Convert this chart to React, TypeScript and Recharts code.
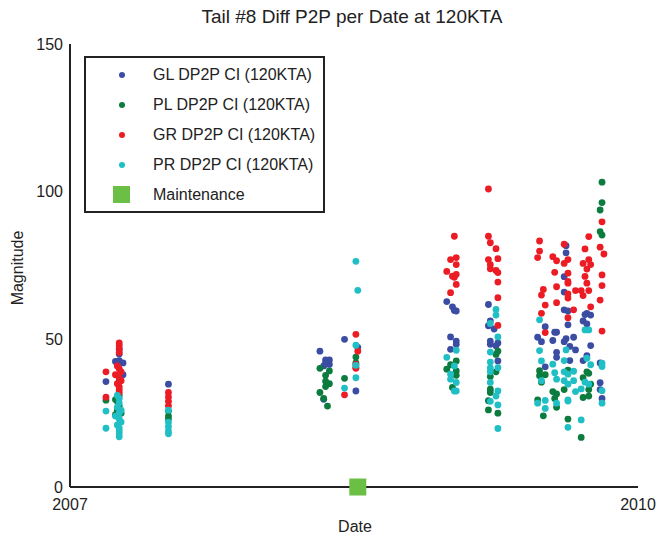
import { ScatterChart, Scatter, XAxis, YAxis } from "recharts";

const FONT = '"Liberation Sans Narrow", "Arial Narrow", "Liberation Sans", sans-serif';

const yTicks = [0, 50, 100, 150];
const xTicks = [2007, 2010];

// [date (decimal year), magnitude]
const glPoints: [number, number][] = [
  [2007.19, 35.7], [2007.24, 42.5], [2007.26, 42.8], [2007.28, 42], [2007.26, 46.5], [2007.26, 45], [2007.28, 38], [2007.26, 36],
  [2007.52, 34.8],
  [2008.32, 46], [2008.45, 50], [2008.35, 43], [2008.37, 43], [2008.35, 42], [2008.37, 41.5], [2008.34, 41], [2008.52, 47.3], [2008.51, 32.5], [2008.34, 29.7],
  [2008.99, 62.8], [2009.02, 61], [2009.03, 59.8], [2009.04, 59.6], [2009.01, 50.8], [2009.04, 49.4], [2009.04, 48.3], [2009.01, 46.6],
  [2009.21, 61.8], [2009.22, 56.2], [2009.21, 54.6], [2009.24, 53.5], [2009.22, 49.4], [2009.26, 48.8], [2009.22, 48.3], [2009.25, 47.8], [2009.26, 42.7],
  [2009.62, 81.7], [2009.62, 79.3], [2009.61, 71.2], [2009.61, 66], [2009.61, 60], [2009.63, 59.6], [2009.73, 58.8], [2009.72, 58.4], [2009.75, 58.2],
  [2009.71, 56.2], [2009.63, 54.9], [2009.73, 55.2], [2009.51, 54.3], [2009.56, 52.4], [2009.57, 52.4], [2009.47, 50.7], [2009.66, 50.7], [2009.49, 49.2],
  [2009.55, 49.6], [2009.61, 49.2], [2009.62, 50.2], [2009.75, 47.9], [2009.64, 47.6], [2009.67, 46.4], [2009.57, 45.6], [2009.73, 44.5], [2009.57, 43.9],
  [2009.64, 42.8], [2009.71, 42.8], [2009.8, 42], [2009.51, 40.7], [2009.8, 35.3], [2009.8, 33], [2009.81, 30],
];

const plPoints: [number, number][] = [
  [2007.19, 29.4], [2007.26, 31], [2007.25, 29], [2007.26, 27.5], [2007.25, 26], [2007.27, 25], [2007.24, 29.6], [2007.24, 24.5],
  [2007.52, 25.7], [2007.52, 24], [2007.52, 23],
  [2008.51, 44], [2008.51, 42], [2008.32, 40.2], [2008.37, 39.3], [2008.35, 37.8], [2008.45, 36.8], [2008.35, 35.8], [2008.37, 35], [2008.35, 34],
  [2008.32, 32], [2008.34, 30], [2008.36, 27.4], [2008.51, 40.5],
  [2009.04, 42.7], [2009.01, 41.4], [2008.99, 39.9], [2009.04, 39.3], [2009.04, 37.8], [2009.02, 33.7],
  [2009.26, 46], [2009.25, 44.9], [2009.25, 39], [2009.22, 37.4], [2009.22, 33.1], [2009.22, 32], [2009.21, 29.2], [2009.21, 26.1], [2009.26, 25],
  [2009.81, 103.2], [2009.81, 96.3], [2009.8, 93.8], [2009.8, 86.5], [2009.81, 85.3], [2009.48, 39.4], [2009.63, 39.6], [2009.73, 39], [2009.74, 38.5],
  [2009.48, 37.7], [2009.51, 38], [2009.49, 35.5], [2009.71, 37], [2009.75, 34.8], [2009.74, 33], [2009.55, 32.3], [2009.57, 31.5], [2009.61, 33],
  [2009.71, 30.3], [2009.74, 30.8], [2009.47, 29.5], [2009.56, 30], [2009.57, 27], [2009.5, 24.1], [2009.63, 23], [2009.7, 16.8],
];

const grPoints: [number, number][] = [
  [2007.19, 39], [2007.19, 30.4], [2007.26, 48.8], [2007.26, 47.8], [2007.26, 46.8], [2007.26, 45.5], [2007.25, 41], [2007.26, 40], [2007.27, 39],
  [2007.24, 38], [2007.26, 37], [2007.27, 36], [2007.25, 35], [2007.26, 34], [2007.26, 33], [2007.26, 32],
  [2007.52, 32], [2007.52, 30.5], [2007.52, 29], [2007.52, 27.5],
  [2008.51, 51.7], [2008.52, 46], [2008.51, 41.5], [2008.51, 40.2], [2008.45, 31.2],
  [2009.03, 84.9], [2009.01, 77], [2009.04, 77.7], [2009.04, 75.3], [2008.99, 73], [2009.02, 71.4], [2009.03, 71], [2009.04, 72], [2009.04, 68.6], [2009.01, 65.8],
  [2009.21, 100.9], [2009.21, 84.9], [2009.22, 82.7], [2009.25, 80.7], [2009.21, 77], [2009.26, 77.3], [2009.22, 75.3], [2009.22, 73.9], [2009.25, 73.3],
  [2009.26, 72.6], [2009.26, 69.4], [2009.26, 64.1], [2009.26, 54.7],
  [2009.81, 89.8], [2009.74, 84.8], [2009.48, 83.3], [2009.61, 82.2], [2009.72, 80.6], [2009.8, 81.2], [2009.48, 79.9], [2009.82, 78.9], [2009.47, 77.7],
  [2009.55, 78], [2009.57, 76.6], [2009.63, 77], [2009.74, 77], [2009.71, 75.7], [2009.61, 75.7], [2009.75, 75.3], [2009.73, 73.8], [2009.56, 72.7],
  [2009.63, 72.4], [2009.72, 71.3], [2009.81, 71.8], [2009.63, 69], [2009.73, 69], [2009.63, 69.6], [2009.81, 68.2], [2009.57, 67.8], [2009.5, 66.9],
  [2009.67, 66.5], [2009.7, 66.5], [2009.74, 66.5], [2009.49, 65], [2009.63, 65.4], [2009.71, 64.8], [2009.63, 64], [2009.8, 63.3], [2009.51, 61.6],
  [2009.57, 62.4], [2009.75, 61], [2009.66, 60], [2009.49, 58.8], [2009.63, 57.3], [2009.51, 52.3], [2009.81, 52.8],
];

const prPoints: [number, number][] = [
  [2007.19, 25.7], [2007.19, 19.9], [2007.25, 31], [2007.26, 30], [2007.26, 28.5], [2007.25, 27], [2007.27, 26], [2007.26, 25], [2007.24, 24],
  [2007.26, 23], [2007.27, 22], [2007.25, 21], [2007.26, 20], [2007.26, 19], [2007.26, 18], [2007.26, 17],
  [2007.52, 26], [2007.52, 22], [2007.52, 20.5], [2007.52, 19], [2007.52, 18],
  [2008.51, 76.4], [2008.52, 66.6], [2008.51, 48], [2008.51, 41.2], [2008.51, 37], [2008.45, 33.5],
  [2009.04, 46.3], [2008.99, 43.9], [2009.03, 41], [2009.01, 38.2], [2009.01, 36.5], [2009.04, 35.4], [2009.03, 32.5], [2009.04, 32.5],
  [2009.25, 60.1], [2009.25, 58.2], [2009.22, 55.4], [2009.26, 50.8], [2009.22, 45.7], [2009.22, 42.3], [2009.26, 40.4], [2009.22, 40.3], [2009.22, 39],
  [2009.22, 35.4], [2009.26, 32.5], [2009.25, 30.8], [2009.22, 29], [2009.26, 27.8], [2009.26, 19.8],
  [2009.48, 56.6], [2009.72, 53.2], [2009.74, 53.2], [2009.48, 46.2], [2009.62, 46.4], [2009.73, 43.6], [2009.49, 42.7], [2009.61, 42.8], [2009.55, 41.6],
  [2009.75, 41.4], [2009.81, 41.9], [2009.81, 40.8], [2009.61, 39], [2009.66, 39.2], [2009.56, 38.7], [2009.63, 38.2], [2009.49, 36], [2009.57, 36.5],
  [2009.61, 36], [2009.66, 36], [2009.72, 35.5], [2009.63, 34.8], [2009.74, 34.8], [2009.7, 33.2], [2009.81, 32.6], [2009.67, 32.3], [2009.63, 29.5],
  [2009.51, 29.3], [2009.47, 28.4], [2009.57, 28.4], [2009.81, 28.4], [2009.63, 29.1], [2009.51, 26.6], [2009.7, 22.7], [2009.63, 20.2],
];

const maintenancePoints: [number, number][] = [[2008.52, 0]];

const series = [
  { name: "GL DP2P CI (120KTA)", points: glPoints, color: "#3a4da2" },
  { name: "PL DP2P CI (120KTA)", points: plPoints, color: "#0b7b3e" },
  { name: "GR DP2P CI (120KTA)", points: grPoints, color: "#ec1c24" },
  { name: "PR DP2P CI (120KTA)", points: prPoints, color: "#20bfc5" },
];
const MAINT_COLOR = "#6bbf44";

const toRows = (pts: [number, number][]) => pts.map(([date, value]) => ({ date, value }));

const dotShape = (color: string) => (props: any) =>
  <circle cx={props.cx} cy={props.cy} r={3.4} fill={color} />;

const squareShape = (props: any) =>
  <rect x={props.cx - 8.5} y={props.cy - 8.5} width={17} height={17} fill={MAINT_COLOR} />;

const AXIS = "#222";
const tickStyle = { fontFamily: FONT, fontSize: 16, fill: "#222" };

function ChartLegend() {
  const rows = [...series.map(s => ({ name: s.name, color: s.color, square: false })), { name: "Maintenance", color: MAINT_COLOR, square: true }];
  return (
    <div style={{ position: "absolute", left: 84, top: 56, width: 241, height: 157, border: `2px solid ${AXIS}`, boxSizing: "border-box", background: "#fff" }}>
      {rows.map((r, i) => (
        <div key={r.name} style={{ position: "absolute", left: 0, top: 17 + i * 30 - 12, height: 24, width: "100%" }}>
          {r.square
            ? <div style={{ position: "absolute", left: 27, top: 3, width: 17, height: 17, background: r.color }} />
            : <div style={{ position: "absolute", left: 33, top: 9, width: 6, height: 6, borderRadius: 3, background: r.color }} />}
          <span style={{ position: "absolute", left: 67, top: 1, fontFamily: FONT, fontSize: 16, color: "#222", whiteSpace: "nowrap", lineHeight: "22px" }}>{r.name}</span>
        </div>
      ))}
    </div>
  );
}

export default function App() {
  return (
    <div style={{ position: "absolute", left: 0, top: 0, width: 660, height: 539, background: "#fff" }}>
      <div style={{ position: "absolute", left: 0, width: 704, top: 6, textAlign: "center", fontFamily: FONT, fontSize: 19, color: "#222" }}>
        Tail #8 Diff P2P per Date at 120KTA
      </div>
      <ScatterChart width={660} height={539} margin={{ top: 44, right: 22, bottom: 12, left: 40 }}>
        <XAxis dataKey="date" type="number" domain={[2007, 2010]} ticks={xTicks} height={40}
          axisLine={{ stroke: AXIS, strokeWidth: 2 }} tickLine={false} tickSize={0} tickMargin={12} tick={tickStyle} />
        <XAxis xAxisId="top" orientation="top" mirror type="number" domain={[2007, 2010]} height={0}
          axisLine={{ stroke: AXIS, strokeWidth: 2 }} tick={false} tickLine={false} />
        <YAxis dataKey="value" type="number" domain={[0, 150]} ticks={yTicks} width={30}
          axisLine={{ stroke: AXIS, strokeWidth: 2 }} tickLine={false} tickSize={0} tickMargin={7} tick={tickStyle} />
        <YAxis yAxisId="leftTicks" orientation="left" mirror type="number" domain={[0, 150]} ticks={yTicks} width={0}
          axisLine={false} tick={false} tickSize={7} tickLine={{ stroke: AXIS, strokeWidth: 1.5 }} />
        <YAxis yAxisId="right" orientation="right" mirror type="number" domain={[0, 150]} ticks={yTicks} width={0}
          axisLine={{ stroke: AXIS, strokeWidth: 2 }} tick={false} tickSize={7} tickLine={{ stroke: AXIS, strokeWidth: 1.5 }} />
        {series.map(s => (
          <Scatter key={s.name} name={s.name} data={toRows(s.points)} shape={dotShape(s.color)} isAnimationActive={false} />
        ))}
        <Scatter name="Maintenance" data={toRows(maintenancePoints)} shape={squareShape} isAnimationActive={false} />
      </ScatterChart>
      <div style={{ position: "absolute", left: 355, top: 527, transform: "translate(-50%, -50%)", fontFamily: FONT, fontSize: 16, color: "#222" }}>Date</div>
      <div style={{ position: "absolute", left: 18, top: 268, transform: "translate(-50%, -50%) rotate(-90deg)", fontFamily: FONT, fontSize: 16, color: "#222", whiteSpace: "nowrap" }}>Magnitude</div>
      <ChartLegend />
    </div>
  );
}
